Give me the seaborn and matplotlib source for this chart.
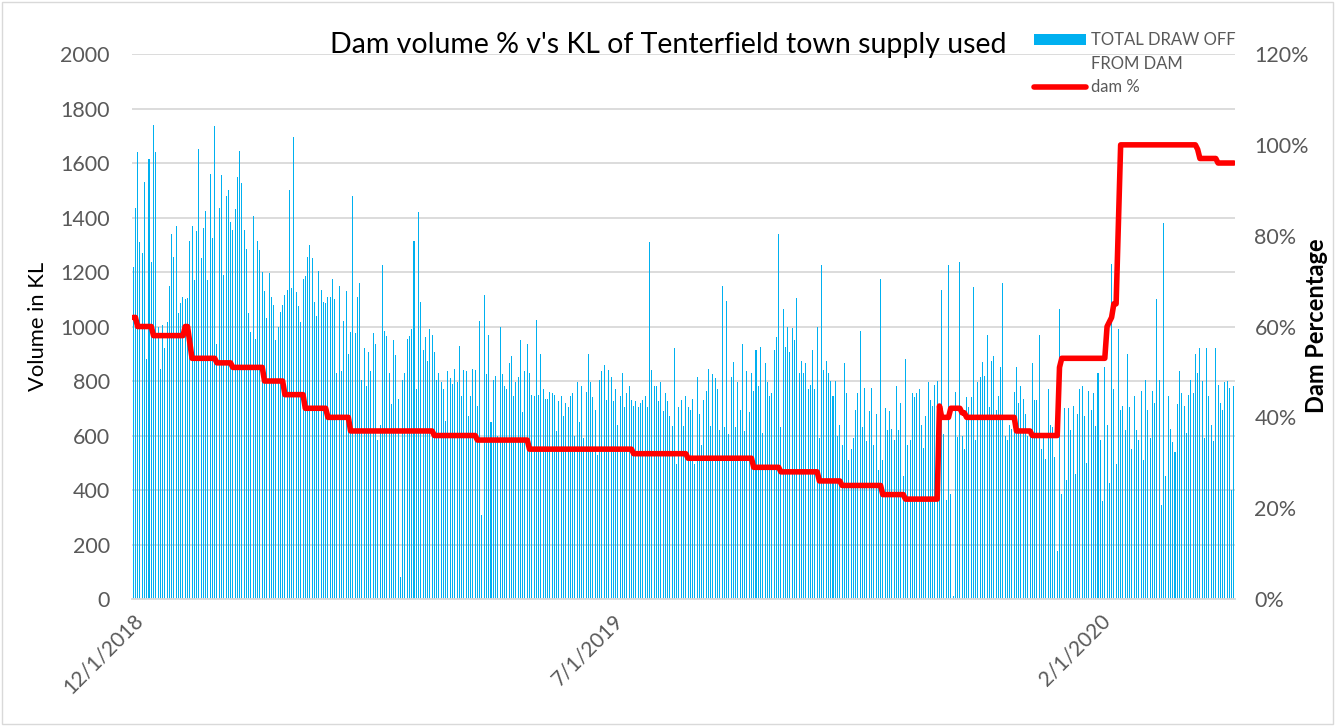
"""
Dam volume % vs KL of Tenterfield town supply used
Daily draw-off (bars, left axis) with dam level (line, right axis).
"""
import matplotlib
matplotlib.use("Agg")
import matplotlib.pyplot as plt
import numpy as np
import pandas as pd
import seaborn as sns
from matplotlib.lines import Line2D
from matplotlib.patches import Patch, Rectangle

# ─────────────────────────────────────────────
# DATA
# ─────────────────────────────────────────────
START_DATE = "2018-12-01"

# daily total draw off from dam (KL), 1 Dec 2018 .. 31 Mar 2020
draw_off_kl = [
    1220, 1435, 1640, 1310, 1270, 1530, 880, 1615, 1235, 1740, 1640, 1000, 845, 1005, 920,
    1015, 1150, 1340, 1255, 1370, 1050, 1085, 1110, 1100, 1105, 1315, 1370, 1170, 1350, 1650,
    1250, 1360, 1425, 1170, 1560, 1325, 1735, 935, 1435, 1555, 1190, 1480, 1500,
    1385, 1355, 1430, 1550, 1645, 1525, 1355, 1285, 1050, 980, 1405, 955, 1315, 1280, 1200,
    1130, 1030, 1195, 1110, 1080, 950, 1000, 1055, 1080, 1115, 1135, 1500, 1140, 1695, 1125,
    1075, 1015, 1175, 1185, 1255, 1300, 1250, 1090, 1040, 1205, 1135, 1090, 1085, 1110,
    1110, 1175, 1100, 830, 1150, 835, 1020, 1130, 900, 980, 1480, 975, 1110, 1160, 805,
    920, 780, 905, 835, 975, 935, 585, 640, 1225, 985, 965, 830, 715, 950, 895,
    735, 80, 805, 830, 955, 965, 990, 1315, 770, 1420, 1090, 915, 960, 875,
    990, 970, 905, 805, 830, 795, 770, 655, 835, 810, 790, 845, 795, 930, 745,
    840, 835, 670, 745, 845, 840, 710, 1020, 310, 1115, 825, 970, 650, 805, 820,
    600, 1000, 825, 780, 770, 865, 890, 745, 795, 815, 950, 685, 835, 935, 830,
    750, 745, 1025, 750, 900, 770, 735, 735, 760, 755, 750, 615, 725, 745, 670,
    720, 705, 745, 755, 600, 795, 650, 780, 590, 760, 900, 795, 740, 695, 530,
    805, 835, 860, 730, 840, 815, 725, 770, 640, 745, 830, 705, 755, 780,
    730, 710, 725, 705, 720, 730, 745, 705, 1310, 840, 780, 780, 725, 795, 690,
    755, 725, 670, 635, 920, 495, 705, 730, 635, 745, 705, 695, 735, 495, 815,
    680, 565, 730, 765, 845, 635, 825, 810, 770, 620, 1150, 630, 1095,
    605, 815, 870, 630, 795, 695, 935, 615, 835, 685, 830, 765, 915, 780, 925,
    610, 865, 795, 745, 755, 915, 960, 1340, 630, 1065, 925, 1000, 905, 995, 950,
    1105, 830, 875, 830, 865, 770, 785, 915, 770, 1000, 590, 1225, 840, 875, 830,
    800, 745, 800, 600, 640, 565, 865, 755, 510, 550, 590, 695, 755, 985, 630,
    775, 580, 690, 775, 565, 680, 475, 1175, 510, 700, 620, 690, 625, 585, 780,
    620, 720, 450, 880, 565, 585, 755, 740, 755, 770, 640, 555, 670, 795, 730,
    710, 785, 800, 555, 1135, 605, 365, 1225, 385, 10, 760, 595, 1235, 600, 550,
    740, 705, 740, 1145, 585, 795, 815, 870, 820, 970, 705, 875, 890, 695, 745,
    850, 1160, 600, 585, 640, 625, 760, 850, 720, 780, 735, 680, 600, 620, 865,
    730, 730, 970, 550, 590, 515, 770, 640, 630, 520, 175, 1065, 385, 700, 435,
    700, 620, 710, 460, 680, 770, 780, 670, 500, 765, 695, 755, 635, 830, 585,
    360, 850, 640, 425, 1230, 770, 495, 990, 695, 710, 620, 900,
    705, 550, 745, 620, 585, 765, 510, 805, 695, 590, 765, 720, 1100, 805, 345,
    1380, 450, 745, 625, 575, 540, 715, 835, 755, 710, 610, 750, 805, 755, 900,
    830, 920, 800, 590, 920, 745, 640, 580, 920, 785, 720, 695, 795, 800, 775,
    400, 780,
]

# dam level (%) read at the days where the level changes
dam_dates = [
    "2018-12-01", "2018-12-02", "2018-12-03", "2018-12-09", "2018-12-10", "2018-12-23",
    "2018-12-24", "2018-12-25", "2018-12-27", "2019-01-06", "2019-01-07", "2019-01-13",
    "2019-01-14", "2019-01-27", "2019-01-28", "2019-02-05", "2019-02-06", "2019-02-14",
    "2019-02-15", "2019-02-24", "2019-02-25", "2019-03-06", "2019-03-07", "2019-04-12",
    "2019-04-13", "2019-05-01", "2019-05-02", "2019-05-24", "2019-05-25", "2019-07-09",
    "2019-07-10", "2019-08-02", "2019-08-03", "2019-08-31", "2019-09-01", "2019-09-12",
    "2019-09-13", "2019-09-29", "2019-09-30", "2019-10-09", "2019-10-10", "2019-10-27",
    "2019-10-28", "2019-11-06", "2019-11-07", "2019-11-21", "2019-11-22", "2019-11-23",
    "2019-11-26", "2019-11-27", "2019-12-01", "2019-12-02", "2019-12-03", "2019-12-04",
    "2019-12-25", "2019-12-26", "2020-01-01", "2020-01-02", "2020-01-13", "2020-01-14",
    "2020-01-15", "2020-02-03", "2020-02-04", "2020-02-06", "2020-02-07", "2020-02-08",
    "2020-02-10", "2020-03-14", "2020-03-15", "2020-03-16", "2020-03-23", "2020-03-24",
    "2020-03-31",
]
dam_pct = [
    62, 62, 60, 60, 58, 58,
    60, 60, 53, 53, 52, 52,
    51, 51, 48, 48, 45, 45,
    42, 42, 40, 40, 37, 37,
    36, 36, 35, 35, 33, 33,
    32, 32, 31, 31, 29, 29,
    28, 28, 26, 26, 25, 25,
    23, 23, 22, 22, 42.5, 40,
    40, 42, 42, 41, 41, 40,
    40, 37, 37, 36, 36, 51,
    53, 53, 60, 62, 65, 65,
    100, 100, 99, 97, 97, 96,
    96,
]

tick_dates = ["2018-12-01", "2019-07-01", "2020-02-01"]
tick_labels = ["12/1/2018", "7/1/2019", "2/1/2020"]

TITLE = "Dam volume % v's KL of Tenterfield town supply used"
BAR_COLOR = "#00B0F0"
LINE_COLOR = "#FF0000"
TEXT_GRAY = "#595959"
GRID_GRAY = "#D9D9D9"

# ─────────────────────────────────────────────
# PLOT
# ─────────────────────────────────────────────
sns.set_theme(style="white")
plt.rcParams["font.family"] = ["Lato", "DejaVu Sans"]

start = pd.Timestamp(START_DATE)
days = np.arange(len(draw_off_kl))
dam_days = (pd.to_datetime(dam_dates) - start).days.to_numpy()
tick_pos = (pd.to_datetime(tick_dates) - start).days.to_numpy()

fig = plt.figure(figsize=(13.43, 7.26), dpi=100)
ax = fig.add_axes([0.0983, 0.1749, 0.8213, 0.7507])

sns.barplot(x=days, y=draw_off_kl, native_scale=True, width=0.45, color=BAR_COLOR,
            saturation=1, linewidth=0, edgecolor=BAR_COLOR, errorbar=None, ax=ax)

ax.set_xlim(-0.5, len(draw_off_kl) - 0.5)
ax.set_ylim(0, 2000)
ax.set_yticks(range(0, 2001, 200))
ax.grid(axis="y", color=GRID_GRAY, linewidth=1.3)
ax.grid(axis="x", visible=False)
ax.set_axisbelow(True)
for side in ["top", "right", "left"]:
    ax.spines[side].set_visible(False)
ax.spines["bottom"].set_color(GRID_GRAY)
ax.spines["bottom"].set_linewidth(1.3)

ax.set_xticks(tick_pos)
ax.set_xticklabels(tick_labels, rotation=45, ha="right", rotation_mode="anchor",
                   fontsize=15, color=TEXT_GRAY)
ax.tick_params(axis="x", length=0, pad=8)
ax.tick_params(axis="y", length=0, pad=16, labelsize=15.5, labelcolor=TEXT_GRAY)
ax.set_xlabel("")
ax.set_ylabel("")

# dam % on secondary axis
ax2 = ax.twinx()
sns.lineplot(x=dam_days, y=dam_pct, ax=ax2, color=LINE_COLOR, linewidth=4,
             estimator=None, sort=False)
ax2.set_ylim(0, 120)
ax2.set_yticks(range(0, 121, 20))
ax2.set_yticklabels([f"{v}%" for v in range(0, 121, 20)])
ax2.tick_params(axis="y", length=0, pad=14, labelsize=15.5, labelcolor=TEXT_GRAY)
ax2.grid(False)
for side in ["top", "right", "left", "bottom"]:
    ax2.spines[side].set_visible(False)
ax2.set_ylabel("")

# texts
fig.text(0.4974, 0.938, TITLE, ha="center", va="center", fontsize=20.5, color="black")
fig.text(0.0283, 0.551, "Volume in KL", rotation=90, ha="center", va="center",
         fontsize=15.8, color="black")
fig.text(0.980, 0.552, "Dam Percentage", rotation=90, ha="center", va="center",
         fontsize=17, fontweight="bold", color="black")

# legend (bar label split over two rows so the patch sits on the first line)
handles = [Patch(facecolor=BAR_COLOR, edgecolor="none"),
           Patch(facecolor="none", edgecolor="none"),
           Line2D([0], [0], color=LINE_COLOR, linewidth=4)]
fig.legend(handles, ["TOTAL DRAW OFF", "FROM DAM", "dam %"], loc="upper left",
           bbox_to_anchor=(1026 / 1343, 1 - 24 / 726), frameon=False, fontsize=12,
           labelcolor=TEXT_GRAY, handlelength=3.1, handleheight=0.7,
           handletextpad=0.3, labelspacing=0.45, borderpad=0)

# chart border
fig.patches.append(Rectangle((0.0015, 0.003), 0.991, 0.994, transform=fig.transFigure,
                             fill=False, edgecolor=GRID_GRAY, linewidth=1))

fig.savefig("out.png", dpi=100)
